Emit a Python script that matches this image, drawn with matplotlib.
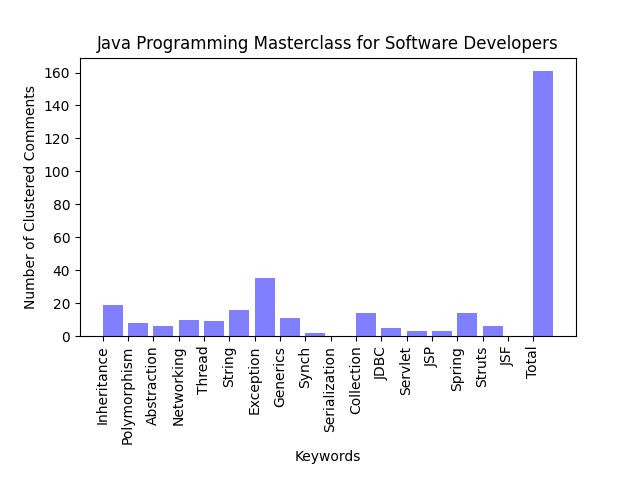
import numpy as np
import matplotlib
matplotlib.use('Agg')
import matplotlib.pyplot as plt

keywords = ['Inheritance', 'Polymorphism', 'Abstraction', 'Networking', 'Thread',
            'String', 'Exception', 'Generics', 'Synch', 'Serialization',
            'Collection', 'JDBC', 'Servlet', 'JSP', 'Spring', 'Struts', 'JSF', 'Total']
counts = [19, 8, 6, 10, 9, 16, 35, 11, 2, 0, 14, 5, 3, 3, 14, 6, 0, 161]

y_pos = np.arange(len(keywords))

plt.figure(figsize=(6.4, 4.8), dpi=100)
# bars start at the tick, not centred on it
plt.bar(y_pos, counts, align='edge', alpha=0.5, color='blue')
plt.xticks(y_pos, keywords, rotation=90)
plt.xlabel('Keywords')
plt.ylabel('Number of Clustered Comments')
plt.title('Java Programming Masterclass for Software Developers')
plt.subplots_adjust(bottom=0.3)
plt.savefig('out.png')
